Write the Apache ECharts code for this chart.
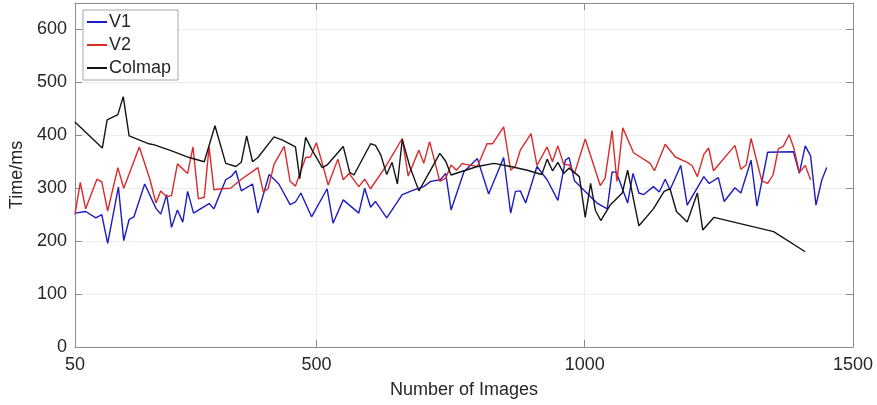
<!DOCTYPE html>
<html>
<head>
<meta charset="utf-8">
<script src="https://cdn.jsdelivr.net/npm/echarts@6/dist/echarts.min.js"></script>
<style>
  html, body { margin: 0; padding: 0; background: #fff; }
  #main { width: 877px; height: 405px; }
</style>
</head>
<body>
<div id="main"></div>
<script>
// [number of images, time in ms]
var v1Points = [[50,253],[70,256],[89,244],[100,250],[111,196],[131,302],[141,201],[151,241],[160,246],[180,308],
  [201,262],[210,251],[221,288],[230,226],[241,259],[251,236],[260,294],[271,253],[300,271],[309,261],
  [331,316],[342,323],[350,333],[360,295],[381,308],[391,253],[412,326],[430,308],[451,269],[461,274],
  [471,291],[491,246],[520,299],[531,234],[550,278],[579,253],[590,300],[601,264],[610,275],[631,244],
  [660,288],[682,297],[700,303],[713,313],[731,316],[741,328],[751,259],[775,331],[800,356],[821,289],
  [849,358],[862,253],[871,294],[880,295],[890,272],[911,341],[930,316],[950,277],[964,353],[971,358],
  [981,314],[992,303],[1023,272],[1042,261],[1051,331],[1059,330],[1080,272],[1090,328],[1101,291],[1110,288],
  [1128,303],[1139,293],[1150,317],[1159,297],[1179,343],[1191,268],[1222,322],[1232,309],[1249,320],[1260,275],
  [1280,301],[1291,291],[1310,353],[1321,266],[1341,368],[1389,369],[1400,328],[1411,380],[1421,361],[1431,268],
  [1442,316],[1451,339]];

var v2Points = [[50,250],[60,311],[70,261],[91,317],[100,312],[111,257],[130,339],[141,300],[170,378],[190,316],
  [201,272],[210,295],[221,284],[230,286],[241,346],[260,328],[270,378],[280,280],[291,283],[300,378],
  [309,297],[322,299],[340,300],[359,316],[391,339],[401,293],[410,299],[421,345],[440,379],[451,313],
  [461,304],[480,358],[489,359],[500,386],[511,347],[522,306],[540,355],[550,316],[561,328],[579,303],
  [590,317],[601,299],[629,341],[660,394],[671,323],[691,372],[700,347],[711,388],[730,313],[741,319],
  [751,344],[761,334],[772,347],[778,345],[800,341],[818,384],[828,384],[849,416],[862,334],[871,342],
  [880,372],[900,403],[911,343],[930,378],[940,350],[950,380],[961,345],[971,344],[981,328],[1001,393],
  [1029,305],[1038,319],[1051,409],[1060,313],[1071,414],[1091,367],[1122,347],[1130,333],[1150,383],[1169,359],
  [1191,349],[1200,343],[1210,322],[1222,364],[1231,376],[1240,333],[1280,381],[1291,336],[1301,344],[1310,394],
  [1330,314],[1341,309],[1351,325],[1361,375],[1370,379],[1381,401],[1390,375],[1400,330],[1411,343],[1421,316]];

var colmapPoints = [[50,425],[101,376],[110,429],[130,439],[140,473],[151,399],[188,384],[198,382],[229,371],[263,358],
  [291,350],[311,418],[331,347],[350,341],[360,349],[370,399],[381,350],[391,358],[421,397],[437,391],
  [461,378],[469,318],[480,396],[492,372],[511,339],[520,344],[550,379],[562,330],[570,325],[601,384],
  [610,381],[620,363],[631,326],[641,349],[651,308],[660,392],[674,341],[691,295],[711,331],[730,366],
  [741,351],[751,325],[775,333],[800,341],[831,347],[862,341],[893,334],[920,326],[930,355],[940,333],
  [950,349],[961,328],[971,338],[990,322],[1001,245],[1011,309],[1020,258],[1030,239],[1048,269],[1070,291],
  [1080,334],[1101,229],[1128,261],[1148,294],[1159,299],[1171,256],[1191,236],[1210,291],[1220,221],[1241,245],
  [1352,218],[1411,180]];

var xTicks = [50, 500, 1000, 1500];

var textColor = '#262626';
var axisColor = '#8c8c8c';
var font = 'Liberation Sans, Arial, sans-serif';

var chart = echarts.init(document.getElementById('main'));
var option = {
  animation: false,
  grid: { left: 74, right: 24, top: 3, bottom: 58 },
  legend: {
    left: 83, top: 10,
    orient: 'vertical',
    data: ['V1', 'V2', 'Colmap'],
    itemWidth: 20, itemHeight: 14, itemGap: 5,
    padding: [3, 7, 3, 3],
    borderColor: '#a6a6a6', borderWidth: 1,
    backgroundColor: '#fff',
    itemStyle: { opacity: 0 },
    textStyle: { fontSize: 18, color: textColor, fontFamily: font, padding: [0, 0, 0, -3] }
  },
  xAxis: [{
    type: 'value', min: 50, max: 1500,
    name: 'Number of Images', nameLocation: 'middle', nameGap: 34,
    nameTextStyle: { fontSize: 18, color: textColor, fontFamily: font },
    axisLine: { lineStyle: { color: axisColor, width: 1 } },
    axisTick: { inside: true, length: 7, customValues: xTicks, lineStyle: { color: axisColor } },
    axisLabel: { customValues: xTicks, fontSize: 18, color: textColor, fontFamily: font, margin: 9,
      formatter: function (v) { return String(v); } },
    splitLine: { show: true, lineStyle: { color: '#ececec', width: 1 } }
  }, {
    type: 'value', min: 50, max: 1500, position: 'top',
    axisLine: { show: true, onZero: false, lineStyle: { color: axisColor, width: 1 } },
    axisTick: { inside: true, length: 7, customValues: xTicks, lineStyle: { color: axisColor } },
    axisLabel: { show: false },
    splitLine: { show: false }
  }],
  yAxis: [{
    type: 'value', min: 0, max: 650, interval: 100,
    name: 'Time/ms', nameLocation: 'middle', nameGap: 46,
    nameTextStyle: { fontSize: 18, color: textColor, fontFamily: font },
    axisLine: { show: true, lineStyle: { color: axisColor, width: 1 } },
    axisTick: { show: true, inside: true, length: 7, lineStyle: { color: axisColor } },
    axisLabel: { fontSize: 18, color: textColor, fontFamily: font, margin: 8, showMaxLabel: false },
    splitLine: { show: true, lineStyle: { color: '#ececec', width: 1 } }
  }, {
    type: 'value', min: 0, max: 650, interval: 100, position: 'right',
    axisLine: { show: true, onZero: false, lineStyle: { color: axisColor, width: 1 } },
    axisTick: { show: true, inside: true, length: 7, lineStyle: { color: axisColor } },
    axisLabel: { show: false },
    splitLine: { show: false }
  }],
  series: [
    { name: 'V1', type: 'line', data: v1Points, symbol: 'none',
      lineStyle: { color: '#1c1cc4', width: 1.4 }, itemStyle: { color: '#1c1cc4' } },
    { name: 'V2', type: 'line', data: v2Points, symbol: 'none',
      lineStyle: { color: '#d92b2b', width: 1.4 }, itemStyle: { color: '#d92b2b' } },
    { name: 'Colmap', type: 'line', data: colmapPoints, symbol: 'none',
      lineStyle: { color: '#141414', width: 1.4 }, itemStyle: { color: '#141414' } }
  ]
};
chart.setOption(option);
</script>
</body>
</html>
